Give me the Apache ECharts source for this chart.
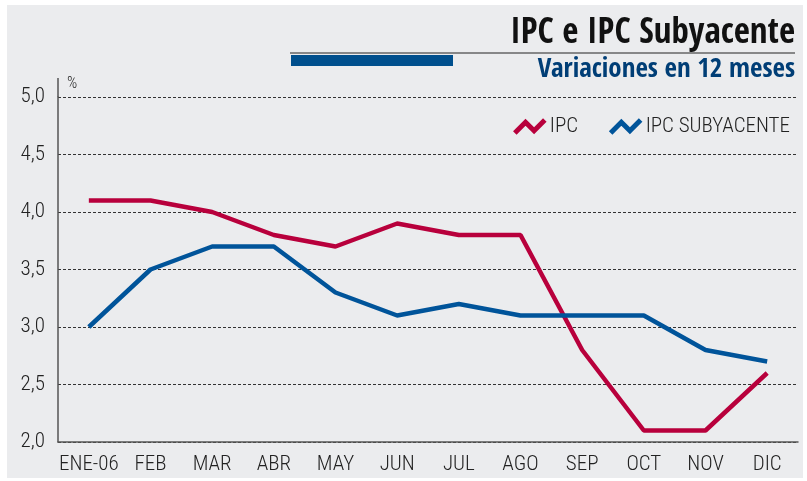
<!DOCTYPE html>
<html>
<head>
<meta charset="utf-8">
<script src="https://cdn.jsdelivr.net/npm/echarts@6/dist/echarts.min.js"></script>
<style>
  html, body { margin: 0; padding: 0; background: #fff; }
  #chart { width: 807px; height: 481px; }
</style>
</head>
<body>
<div id="chart"></div>
<script>
var months = ['ENE-06', 'FEB', 'MAR', 'ABR', 'MAY', 'JUN', 'JUL', 'AGO', 'SEP', 'OCT', 'NOV', 'DIC'];
var ipc = [4.1, 4.1, 4.0, 3.8, 3.7, 3.9, 3.8, 3.8, 2.8, 2.1, 2.1, 2.6];
var ipcSub = [3.0, 3.5, 3.7, 3.7, 3.3, 3.1, 3.2, 3.1, 3.1, 3.1, 2.8, 2.7];

var font = "'Roboto Condensed', 'DejaVu Sans Condensed', sans-serif";
var titleFont = "'Open Sans Condensed', 'Roboto Condensed', sans-serif";
var red = '#b8003c', blue = '#00549a';
var zig = 'path://M0,14 L10,4 L18,12 L28,2';

var myChart = echarts.init(document.getElementById('chart'));
var option = {
    animation: false,
    backgroundColor: '#ffffff',
    textStyle: { fontFamily: font },
    graphic: [
        { type: 'rect', z: -10, shape: { x: 7, y: 5, width: 796, height: 473 }, style: { fill: '#ebecee' } },
        { type: 'line', shape: { x1: 290, y1: 53, x2: 795, y2: 53 }, style: { stroke: '#222', lineWidth: 1 } },
        { type: 'rect', shape: { x: 291, y: 55, width: 162, height: 11 }, style: { fill: '#004f8d' } },
        { type: 'text', right: 12, top: 16, style: { text: 'IPC e IPC Subyacente', font: 'bold 35px ' + titleFont, fill: '#111' } },
        { type: 'text', right: 12, top: 56, style: { text: 'Variaciones en 12 meses', font: 'bold 27px ' + titleFont, fill: '#003e76' } },
        { type: 'text', left: 67, top: 76, style: { text: '%', fontSize: 16, fontWeight: 300, fontFamily: "'Roboto Condensed', sans-serif", fill: '#222' } },
        { type: 'line', shape: { x1: 58, y1: 78, x2: 58, y2: 97 }, style: { stroke: '#555', lineWidth: 1.5 } }
    ],
    legend: {
        right: 12,
        top: 111,
        itemWidth: 30,
        itemHeight: 16,
        itemGap: 30,
        textStyle: { fontFamily: font, fontSize: 21, fontWeight: 300, color: '#222' },
        data: [
            { name: 'IPC', icon: zig, itemStyle: { color: 'none', borderColor: red, borderWidth: 5 } },
            { name: 'IPC SUBYACENTE', icon: zig, itemStyle: { color: 'none', borderColor: blue, borderWidth: 5 } }
        ]
    },
    grid: { left: 58, right: 9, top: 97, bottom: 39 },
    xAxis: {
        type: 'category',
        data: months,
        boundaryGap: true,
        axisLine: { lineStyle: { color: '#555', width: 1.5 } },
        axisTick: { show: false },
        axisLabel: { interval: 0, fontFamily: font, fontSize: 21, fontWeight: 300, color: '#222', margin: 12 }
    },
    yAxis: {
        type: 'value',
        min: 2,
        max: 5,
        interval: 0.5,
        axisLine: { show: true, lineStyle: { color: '#555', width: 1.5 } },
        axisTick: { show: false },
        axisLabel: {
            fontFamily: font, fontSize: 21, fontWeight: 300, color: '#222', margin: 13,
            formatter: function (v) { return v.toFixed(1).replace('.', ','); }
        },
        splitLine: { lineStyle: { color: '#333', type: [3, 2], width: 1 } }
    },
    series: [
        {
            name: 'IPC', type: 'line', data: ipc, symbol: 'none',
            lineStyle: { color: red, width: 4.5 }, itemStyle: { color: red }
        },
        {
            name: 'IPC SUBYACENTE', type: 'line', data: ipcSub, symbol: 'none',
            lineStyle: { color: blue, width: 4.5 }, itemStyle: { color: blue }
        }
    ]
};
myChart.setOption(option);
</script>
</body>
</html>
